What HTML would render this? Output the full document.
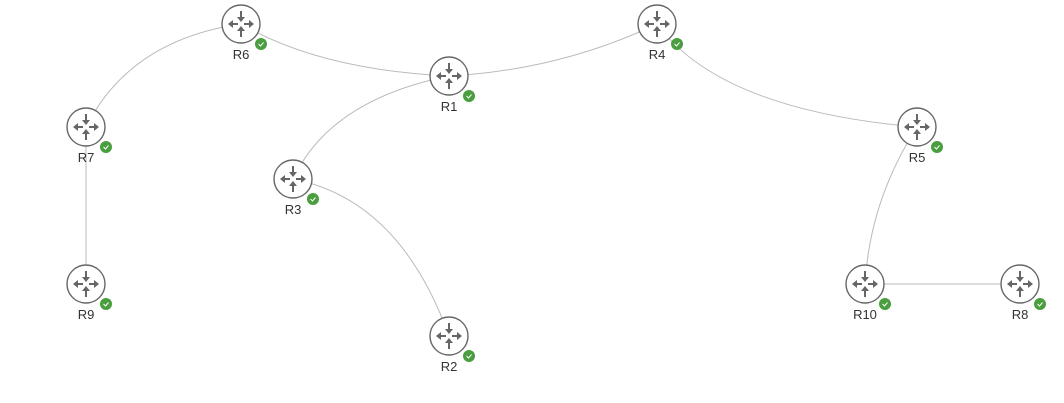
<!DOCTYPE html>
<html><head><meta charset="utf-8"><style>
html,body{margin:0;padding:0;background:#fff;width:1064px;height:403px;overflow:hidden}
svg{display:block}
text{font-family:"Liberation Sans",sans-serif;font-size:13px;fill:#333;text-anchor:middle}
</style></head><body>
<svg width="1064" height="403" viewBox="0 0 1064 403">
<defs>
<g id="r">
<circle r="19" fill="#fff" stroke="#666" stroke-width="1.4"/>
<g fill="#666" stroke="#666">
<line x1="0" y1="-13" x2="0" y2="-6" stroke-width="2"/><polygon points="-4,-7 4,-7 0,-2" stroke="none"/>
<line x1="0" y1="13" x2="0" y2="6" stroke-width="2"/><polygon points="-4,7 4,7 0,2" stroke="none"/>
<line x1="-3" y1="0" x2="-9" y2="0" stroke-width="2"/><polygon points="-8,-4 -8,4 -13,0" stroke="none"/>
<line x1="3" y1="0" x2="9" y2="0" stroke-width="2"/><polygon points="8,-4 8,4 13,0" stroke="none"/>
</g>
<circle cx="20" cy="20" r="6" fill="#4a9e3f"/>
<polyline points="17.5,20 19.5,22 22.5,18.5" fill="none" stroke="#fff" stroke-width="1"/>
</g>
</defs>
<g fill="none" stroke="#bbb" stroke-width="1">
<path d="M241,24 Q130,40 86,127"/>
<path d="M241,24 Q320,70 449,76"/>
<path d="M449,76 Q560,70 657,24"/>
<path d="M449,76 Q330,100 293,179"/>
<path d="M293,179 Q400,200 449,336"/>
<path d="M657,24 Q720,110 917,127"/>
<path d="M917,127 Q870,200 865,284"/>
<path d="M86,127 L86,284"/>
<path d="M865,284 L1020,284"/>
</g>
<use href="#r" x="241" y="24"/><text x="241" y="59">R6</text>
<use href="#r" x="449" y="76"/><text x="449" y="111">R1</text>
<use href="#r" x="657" y="24"/><text x="657" y="59">R4</text>
<use href="#r" x="86" y="127"/><text x="86" y="162">R7</text>
<use href="#r" x="293" y="179"/><text x="293" y="214">R3</text>
<use href="#r" x="917" y="127"/><text x="917" y="162">R5</text>
<use href="#r" x="86" y="284"/><text x="86" y="319">R9</text>
<use href="#r" x="449" y="336"/><text x="449" y="371">R2</text>
<use href="#r" x="865" y="284"/><text x="865" y="319">R10</text>
<use href="#r" x="1020" y="284"/><text x="1020" y="319">R8</text>
</svg>
</body></html>
